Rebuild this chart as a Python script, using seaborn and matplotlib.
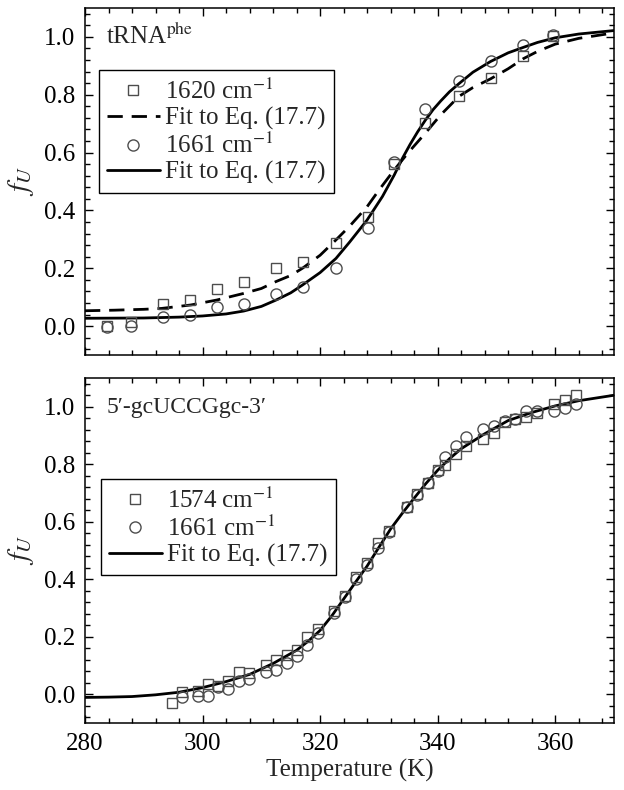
import numpy as np
import pandas as pd
import matplotlib
matplotlib.use("Agg")
import matplotlib.pyplot as plt
import seaborn as sns
from matplotlib.ticker import MultipleLocator

# ---------------- data ----------------
# Top panel: tRNA^phe
trna_T = [283.7, 287.9, 293.2, 297.8, 302.4, 307.0, 312.5, 317.1,
          322.7, 328.1, 332.6, 337.9, 343.6, 349.0, 354.6, 359.7]
trna_1620 = [0.000, 0.015, 0.076, 0.090, 0.127, 0.154, 0.202, 0.223,
             0.286, 0.376, 0.561, 0.704, 0.794, 0.858, 0.935, 1.002]
trna_1661 = [-0.002, 0.000, 0.032, 0.038, 0.065, 0.075, 0.111, 0.134,
             0.202, 0.338, 0.567, 0.752, 0.849, 0.916, 0.973, 1.005]

# fit curves
trna_fit1620_T = [280, 285, 290, 293, 298, 302.4, 307, 310, 312.5, 315, 317,
                  320, 322.7, 325, 328, 330, 332.6, 335, 337.9, 340.5, 343.6,
                  346, 349, 352, 354.6, 357, 360, 364, 370]
trna_fit1620 = [0.053, 0.055, 0.058, 0.061, 0.073, 0.090, 0.113, 0.130, 0.154,
                0.175, 0.200, 0.245, 0.298, 0.345, 0.413, 0.470, 0.540, 0.600,
                0.667, 0.730, 0.794, 0.825, 0.855, 0.890, 0.925, 0.950, 0.975,
                0.995, 1.014]
trna_fit1661_T = [280, 290, 296, 300, 304, 307, 310, 312.5, 315, 317, 320,
                  322.7, 325, 328, 330.6, 332.6, 334, 335.3, 336.6, 337.9,
                  339.2, 340.5, 342, 343.6, 346, 349, 352, 354.6, 357, 360,
                  364, 370]
trna_fit1661 = [0.027, 0.028, 0.031, 0.035, 0.042, 0.052, 0.068, 0.090, 0.115,
                0.142, 0.185, 0.234, 0.290, 0.367, 0.448, 0.522, 0.580, 0.628,
                0.672, 0.712, 0.748, 0.778, 0.810, 0.838, 0.878, 0.915, 0.945,
                0.964, 0.981, 0.997, 1.010, 1.022]

# Bottom panel: 5'-gcUCCGgc-3'
hp_T = [294.8, 296.5, 299.2, 300.9, 302.7, 304.4, 306.2, 307.9, 310.8, 312.5,
        314.3, 316.0, 317.8, 319.6, 322.3, 324.2, 326.1, 328.0, 329.9, 331.8,
        334.7, 336.5, 338.3, 340.1, 341.3, 343.2, 344.9, 347.7, 349.6, 351.5,
        353.2, 355.0, 356.9, 359.8, 361.6, 363.5]
hp_1574 = [-0.029, 0.009, 0.011, 0.036, 0.029, 0.047, 0.076, 0.075, 0.101,
           0.118, 0.138, 0.153, 0.199, 0.228, 0.291, 0.343, 0.409, 0.457,
           0.526, 0.569, 0.653, 0.695, 0.736, 0.779, 0.797, 0.837, 0.862,
           0.889, 0.908, 0.946, 0.957, 0.966, 0.980, 1.009, 1.023, 1.041]
hp_1661_T = hp_T[1:]
hp_1661 = [-0.011, -0.005, -0.006, 0.026, 0.017, 0.047, 0.052, 0.076, 0.086,
           0.110, 0.133, 0.172, 0.213, 0.283, 0.339, 0.402, 0.448, 0.509,
           0.564, 0.651, 0.693, 0.736, 0.777, 0.825, 0.863, 0.894, 0.923,
           0.934, 0.949, 0.957, 0.986, 0.986, 0.984, 0.995, 1.009]
hp_fit_T = [280, 284, 288, 292, 296, 300, 304, 308, 312, 316, 318, 320, 322,
            324, 326, 328, 330, 332, 334, 336, 338, 340, 342, 344, 348, 352,
            356, 360, 364, 370]
hp_fit = [-0.011, -0.010, -0.008, -0.002, 0.007, 0.023, 0.044, 0.069, 0.107,
          0.153, 0.185, 0.222, 0.273, 0.331, 0.389, 0.446, 0.511, 0.575,
          0.630, 0.682, 0.733, 0.779, 0.819, 0.854, 0.906, 0.952, 0.980,
          1.003, 1.021, 1.040]

# ---------------- style ----------------
sns.set_theme(style="ticks")
plt.rcParams["font.family"] = ["Liberation Serif", "DejaVu Serif"]
plt.rcParams["mathtext.fontset"] = "stix"
plt.rcParams["font.size"] = 18
plt.rcParams["axes.linewidth"] = 1.1

FS = 18
MEC = "0.3"

fig = plt.figure(figsize=(6.24, 7.90), dpi=100)
ax1 = fig.add_axes([85/624, 1 - 355/790, 529/624, 347/790])
ax2 = fig.add_axes([85/624, 1 - 723/790, 529/624, 345/790])


def style_axis(ax):
    ax.set_xlim(280, 370)
    ax.set_ylim(-0.1, 1.1)
    ax.xaxis.set_major_locator(MultipleLocator(20))
    ax.xaxis.set_minor_locator(MultipleLocator(4))
    ax.yaxis.set_major_locator(MultipleLocator(0.2))
    ax.yaxis.set_minor_locator(MultipleLocator(0.04))
    ax.tick_params(which="both", direction="in", top=True, right=True,
                   labelsize=FS, width=1.0, colors="black")
    ax.tick_params(which="major", length=6, pad=7)
    ax.tick_params(which="minor", length=3.5)
    ax.yaxis.set_major_formatter(matplotlib.ticker.FormatStrFormatter("%.1f"))
    for s in ax.spines.values():
        s.set_color("black")
        s.set_linewidth(1.1)
    ax.set_ylabel(r"$f_U$", fontsize=21, labelpad=6)


LEG_KW = dict(loc="upper left", borderaxespad=0, fontsize=FS, frameon=True,
              fancybox=False, edgecolor="black", framealpha=1,
              handlelength=2.1, handletextpad=0.22, labelspacing=0.12,
              borderpad=0.33)

# ---- top panel ----
df_t1 = pd.DataFrame({"T": trna_T, "f": trna_1620})
df_t2 = pd.DataFrame({"T": trna_T, "f": trna_1661})
df_f1 = pd.DataFrame({"T": trna_fit1620_T, "f": trna_fit1620})
df_f2 = pd.DataFrame({"T": trna_fit1661_T, "f": trna_fit1661})

sns.lineplot(data=df_f1, x="T", y="f", ax=ax1, color="black", lw=2.0,
             estimator=None, label="Fit to Eq. (17.7)", zorder=2)
ax1.lines[-1].set_dashes((5.5, 3.2))
sns.lineplot(data=df_f2, x="T", y="f", ax=ax1, color="black", lw=2.0,
             estimator=None, label="Fit to Eq. (17.7) ", zorder=2)
sns.lineplot(data=df_t1, x="T", y="f", ax=ax1, marker="s", linestyle="none",
             markersize=7, markerfacecolor="none", markeredgecolor=MEC,
             markeredgewidth=1.0, color=MEC, estimator=None,
             label=r"1620 cm$^{-1}$", zorder=3)
sns.lineplot(data=df_t2, x="T", y="f", ax=ax1, marker="o", linestyle="none",
             markersize=8, markerfacecolor="none", markeredgecolor=MEC,
             markeredgewidth=1.0, color=MEC, estimator=None,
             label=r"1661 cm$^{-1}$", zorder=3)

h, l = ax1.get_legend_handles_labels()
hd = dict(zip(l, h))
order = [r"1620 cm$^{-1}$", "Fit to Eq. (17.7)", r"1661 cm$^{-1}$", "Fit to Eq. (17.7) "]
leg = ax1.legend([hd[k] for k in order], [k.strip() for k in order],
                 bbox_to_anchor=(0.026, 0.821), **LEG_KW)
leg.get_frame().set_linewidth(1.0)

ax1.text(0.04, 0.896, r"tRNA$^{\rm phe}$", transform=ax1.transAxes,
         fontsize=FS, va="baseline", ha="left")
style_axis(ax1)
ax1.set_xlabel("")
ax1.tick_params(axis="x", labelbottom=False)

# ---- bottom panel ----
df_b1 = pd.DataFrame({"T": hp_T, "f": hp_1574})
df_b2 = pd.DataFrame({"T": hp_1661_T, "f": hp_1661})
df_bf = pd.DataFrame({"T": hp_fit_T, "f": hp_fit})

sns.lineplot(data=df_bf, x="T", y="f", ax=ax2, color="black", lw=2.0,
             estimator=None, label="Fit to Eq. (17.7)", zorder=2)
sns.lineplot(data=df_b1, x="T", y="f", ax=ax2, marker="s", linestyle="none",
             markersize=7, markerfacecolor="none", markeredgecolor=MEC,
             markeredgewidth=1.0, color=MEC, estimator=None,
             label=r"1574 cm$^{-1}$", zorder=3)
sns.lineplot(data=df_b2, x="T", y="f", ax=ax2, marker="o", linestyle="none",
             markersize=8, markerfacecolor="none", markeredgecolor=MEC,
             markeredgewidth=1.0, color=MEC, estimator=None,
             label=r"1661 cm$^{-1}$", zorder=3)

h, l = ax2.get_legend_handles_labels()
hd = dict(zip(l, h))
order = [r"1574 cm$^{-1}$", r"1661 cm$^{-1}$", "Fit to Eq. (17.7)"]
leg2 = ax2.legend([hd[k] for k in order], order,
                  bbox_to_anchor=(0.030, 0.707), **LEG_KW)
leg2.get_frame().set_linewidth(1.0)

ax2.text(0.04, 0.899, "5\u2032-gcUCCGgc-3\u2032", transform=ax2.transAxes,
         fontsize=17, va="baseline", ha="left")
style_axis(ax2)
ax2.set_xlabel("Temperature (K)", fontsize=FS, labelpad=3)

fig.savefig("out.png", dpi=100)
